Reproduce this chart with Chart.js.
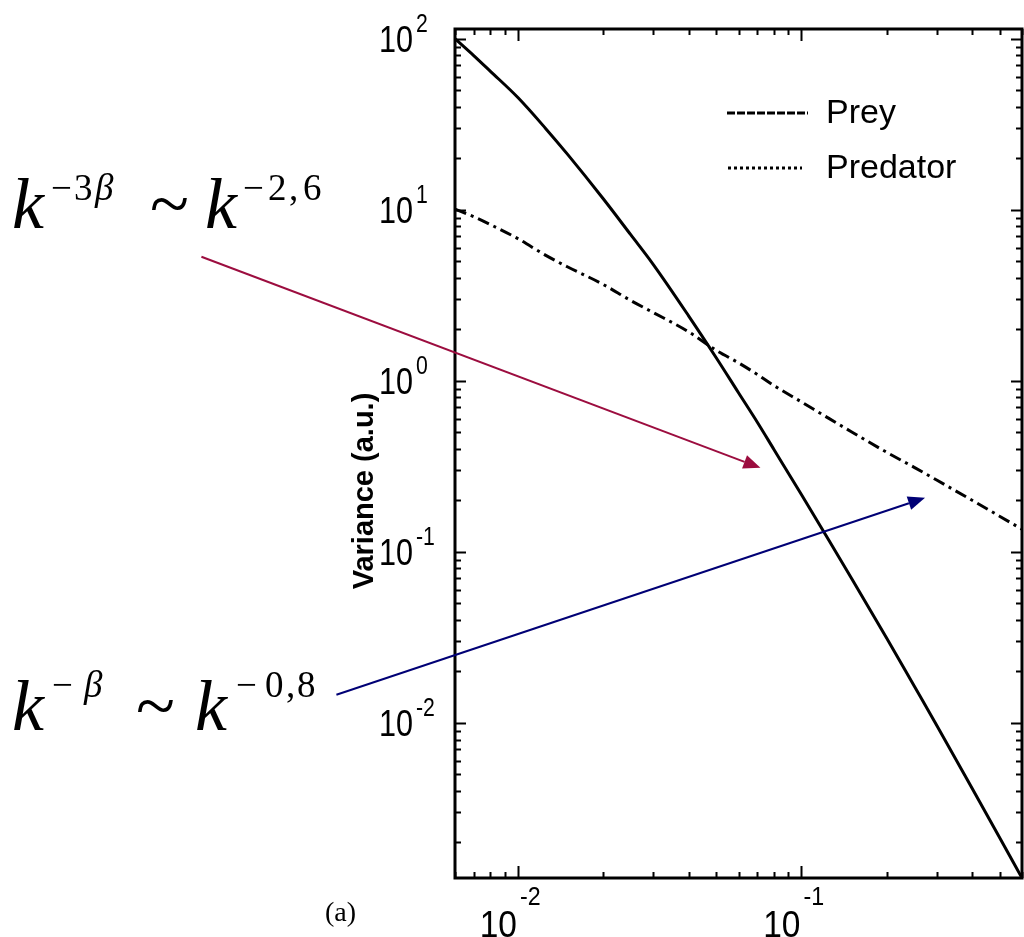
<!DOCTYPE html>
<html>
<head>
<meta charset="utf-8">
<title>Variance spectrum</title>
<script src="https://cdn.jsdelivr.net/npm/chart.js@4/dist/chart.umd.min.js"></script>
<style>
    html, body { margin: 0; padding: 0; background: #fff; }
    #wrap { position: relative; width: 1024px; height: 937px; }
</style>
</head>
<body>
<div id="wrap"><canvas id="chart" width="1024" height="937"></canvas></div>
<script>
// wavenumber k
const K_VALUES = [0.006, 0.007, 0.008, 0.01, 0.0125, 0.015, 0.02, 0.025, 0.03, 0.04, 0.05, 0.06,
                  0.07, 0.08, 0.1, 0.125, 0.15, 0.2, 0.25, 0.3, 0.4, 0.5, 0.6];
// variance (a.u.)
const PREY = [100, 79.5, 64.5, 45.3, 30.0, 21.0, 11.6, 7.15, 4.8, 2.4, 1.37, 0.852,
              0.571, 0.397, 0.2163, 0.117, 0.0704, 0.0313, 0.01643, 0.0097, 0.00415, 0.00214, 0.00124];
const PREDATOR = [10.1, 9.1, 8.19, 6.78, 5.43, 4.63, 3.66, 2.95, 2.51, 1.934, 1.51, 1.274,
                  1.088, 0.939, 0.753, 0.603, 0.504, 0.382, 0.312, 0.263, 0.2003, 0.1617, 0.1356];

// axes
const X_RANGE = [0.006, 0.6];
const Y_RANGE = [0.00124, 114];
const X_MAJOR = [0.01, 0.1];
const X_EXP = ['-2', '-1'];
const Y_MAJOR = [0.01, 0.1, 1, 10, 100];
const Y_EXP = ['-2', '-1', '0', '1', '2'];

const SERIES_NAMES = ['Prey', 'Predator'];
const Y_TITLE = 'Variance (a.u.)';
const PANEL = '(a)';

// annotation arrows, in data coordinates (start lies left of the axis)
const ARROW_RED = { from: [7.65e-4, 5.31], to: [0.0717, 0.31] };
const ARROW_BLUE = { from: [2.29e-3, 0.0146], to: [0.273, 0.207] };

// minor ticks 2..9 x 10^n inside the range
function minorTicks(range) {
    const out = [];
    for (let e = -4; e <= 3; e++) {
        for (let m = 2; m <= 9; m++) {
            const v = m * Math.pow(10, e);
            if (v >= range[0] * 0.999 && v <= range[1] * 1.001) out.push(v);
        }
    }
    return out;
}

const SERIF = '"Liberation Serif", "Times New Roman", serif';
const SANS = '"Liberation Sans", Arial, Helvetica, sans-serif';

// "10" with a raised exponent, squeezed horizontally like the scanned labels
function drawPower(ctx, exp, x, baseY, expY, squeeze, mode) {
    ctx.save();
    ctx.font = '36px ' + SANS;
    const wb = ctx.measureText('10').width * squeeze;
    const gap = 3;
    let left;
    if (mode === 'left') left = x;      // x = left end of "10"
    else left = x - wb;                 // x = right end of "10"
    ctx.textAlign = 'left';
    ctx.textBaseline = 'alphabetic';
    ctx.fillStyle = '#000';
    ctx.save();
    ctx.translate(left, baseY);
    ctx.scale(squeeze, 1);
    ctx.font = '36px ' + SANS;
    ctx.fillText('10', 0, 0);
    ctx.restore();
    ctx.save();
    ctx.translate(left + wb + gap, expY);
    ctx.scale(squeeze, 1);
    ctx.font = '25px ' + SANS;
    ctx.fillText(exp, 0, 0);
    ctx.restore();
    ctx.restore();
}

function drawArrow(ctx, x0, y0, x1, y1, color) {
    const ang = Math.atan2(y1 - y0, x1 - x0);
    const len = 17, half = 7;
    const bx = x1 - len * Math.cos(ang), by = y1 - len * Math.sin(ang);
    ctx.save();
    ctx.strokeStyle = color;
    ctx.fillStyle = color;
    ctx.lineWidth = 2;
    ctx.beginPath();
    ctx.moveTo(x0, y0);
    ctx.lineTo(bx, by);
    ctx.stroke();
    ctx.beginPath();
    ctx.moveTo(x1, y1);
    ctx.lineTo(bx + half * Math.sin(ang), by - half * Math.cos(ang));
    ctx.lineTo(bx - half * Math.sin(ang), by + half * Math.cos(ang));
    ctx.closePath();
    ctx.fill();
    ctx.restore();
}

// pieces of the formulas: [text, font, x, baseline]
function drawFormula(ctx, pieces) {
    ctx.save();
    ctx.fillStyle = '#000';
    ctx.textAlign = 'left';
    ctx.textBaseline = 'alphabetic';
    pieces.forEach(([t, f, x, y]) => {
        ctx.font = f;
        ctx.fillText(t, x, y);
    });
    ctx.restore();
}

const overlay = {
    id: 'overlay',
    afterDatasetsDraw(chart) {
        const { ctx, chartArea: a } = chart;
        const xs = chart.scales.x, ys = chart.scales.y;
        ctx.save();

        // frame
        ctx.strokeStyle = '#000';
        ctx.lineWidth = 3;
        ctx.strokeRect(a.left, a.top, a.right - a.left, a.bottom - a.top);

        // ticks on all four sides, pointing inwards
        ctx.lineWidth = 2;
        const tick = (vals, len) => {
            vals.forEach(v => {
                const px = Math.round(xs.getPixelForValue(v)) + 0.5;
                ctx.beginPath();
                ctx.moveTo(px, a.bottom); ctx.lineTo(px, a.bottom - len);
                ctx.moveTo(px, a.top); ctx.lineTo(px, a.top + len);
                ctx.stroke();
            });
        };
        const tickY = (vals, len) => {
            vals.forEach(v => {
                const py = Math.round(ys.getPixelForValue(v)) + 0.5;
                ctx.beginPath();
                ctx.moveTo(a.left, py); ctx.lineTo(a.left + len, py);
                ctx.moveTo(a.right, py); ctx.lineTo(a.right - len, py);
                ctx.stroke();
            });
        };
        tick(X_MAJOR, 12);
        tick(minorTicks(X_RANGE), 6);
        tickY(Y_MAJOR, 11);
        tickY(minorTicks(Y_RANGE), 6);

        // tick labels
        Y_MAJOR.forEach((v, i) => {
            const py = ys.getPixelForValue(v);
            drawPower(ctx, Y_EXP[i], a.left - 76, py + 13, py - 7, 0.85, 'left');
        });
        X_MAJOR.forEach((v, i) => {
            const px = xs.getPixelForValue(v);
            drawPower(ctx, X_EXP[i], px - 1, a.bottom + 59, a.bottom + 27, 0.93, 'base');
        });

        // y axis title
        ctx.save();
        ctx.translate(a.left - 90, 491);
        ctx.rotate(-Math.PI / 2);
        ctx.font = 'bold 29px ' + SANS;
        ctx.textAlign = 'center';
        ctx.textBaseline = 'middle';
        ctx.fillStyle = '#000';
        ctx.fillText(Y_TITLE, 0, 0);
        ctx.restore();

        // panel label
        ctx.font = '28px ' + SERIF;
        ctx.textAlign = 'left';
        ctx.textBaseline = 'alphabetic';
        ctx.fillStyle = '#000';
        ctx.fillText(PANEL, 325, 921);

        // legend
        const legend = [
            { name: SERIES_NAMES[0], y: 113, x0: 727, x1: 808, dash: [8, 2] },
            { name: SERIES_NAMES[1], y: 168, x0: 728, x1: 802, dash: [3, 3] }
        ];
        legend.forEach(l => {
            ctx.save();
            ctx.strokeStyle = '#000';
            ctx.lineWidth = 3;
            ctx.setLineDash(l.dash);
            ctx.beginPath();
            ctx.moveTo(l.x0, l.y);
            ctx.lineTo(l.x1, l.y);
            ctx.stroke();
            ctx.restore();
            ctx.font = '34px ' + SANS;
            ctx.fillStyle = '#000';
            ctx.textBaseline = 'middle';
            ctx.fillText(l.name, 826, l.y + 1);
        });

        // formulas
        const K = 'italic 72px ' + SERIF;
        const S = '37px ' + SERIF;
        const SI = 'italic 37px ' + SERIF;
        const R = '72px ' + SERIF;
        drawFormula(ctx, [
            ['k', K, 12, 228], ['\u2212', S, 51, 200], ['3', S, 74, 200], ['\u03b2', SI, 95, 200],
            ['~', R, 150, 228], ['k', K, 205, 228],
            ['\u2212', S, 243, 200], ['2', S, 268, 200], [',', S, 289, 200], ['6', S, 303, 200]
        ]);
        drawFormula(ctx, [
            ['k', K, 12, 730], ['\u2212', S, 52, 697], ['\u03b2', SI, 84, 697],
            ['~', R, 136, 730], ['k', K, 195, 730],
            ['\u2212', S, 236, 697], ['0', S, 265, 697], [',', S, 286, 697], ['8', S, 297, 697]
        ]);

        // arrows
        const p = pt => [xs.getPixelForValue(pt[0]), ys.getPixelForValue(pt[1])];
        let s = p(ARROW_RED.from), e = p(ARROW_RED.to);
        drawArrow(ctx, s[0], s[1], e[0], e[1], '#9c0d3f');
        s = p(ARROW_BLUE.from); e = p(ARROW_BLUE.to);
        drawArrow(ctx, s[0], s[1], e[0], e[1], '#000075');

        ctx.restore();
    }
};

const toPoints = vals => K_VALUES.map((k, i) => ({ x: k, y: vals[i] }));

new Chart(document.getElementById('chart'), {
    type: 'line',
    data: {
        datasets: [
            {
                label: SERIES_NAMES[0],
                data: toPoints(PREY),
                borderColor: '#000',
                borderWidth: 3,
                pointRadius: 0,
                cubicInterpolationMode: 'monotone',
                fill: false
            },
            {
                label: SERIES_NAMES[1],
                data: toPoints(PREDATOR),
                borderColor: '#000',
                borderWidth: 3,
                borderDash: [12, 5, 3, 5],
                pointRadius: 0,
                cubicInterpolationMode: 'monotone',
                fill: false
            }
        ]
    },
    options: {
        responsive: false,
        animation: false,
        events: [],
        layout: { padding: { left: 455, top: 29, right: 2, bottom: 59 } },
        plugins: {
            legend: { display: false },
            tooltip: { enabled: false }
        },
        scales: {
            x: { type: 'logarithmic', min: X_RANGE[0], max: X_RANGE[1], display: false },
            y: { type: 'logarithmic', min: Y_RANGE[0], max: Y_RANGE[1], display: false }
        }
    },
    plugins: [overlay]
});
</script>
</body>
</html>
